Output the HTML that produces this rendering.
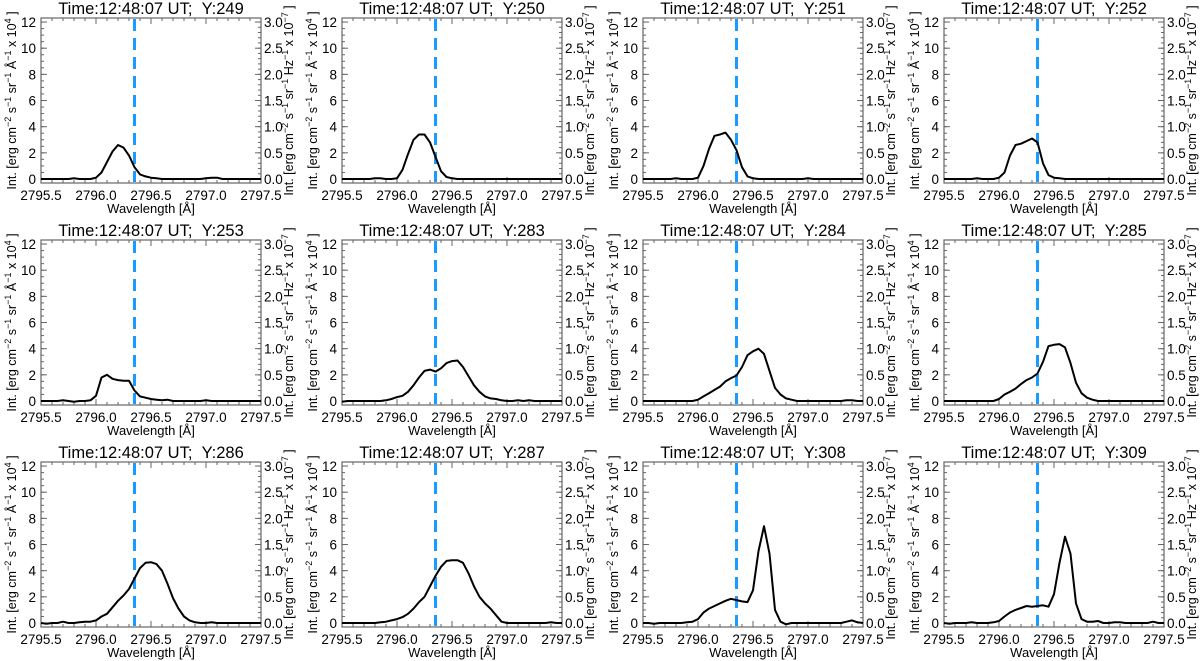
<!DOCTYPE html>
<html><head><meta charset="utf-8">
<style>
html,body{margin:0;padding:0;background:#fff;}
svg{display:block;font-family:"Liberation Sans",Arial,sans-serif;}
</style></head>
<body>
<svg id="fig" width="1200" height="661" viewBox="0 0 1200 661" xmlns="http://www.w3.org/2000/svg"></svg>
<script>
const yLabels = ["249","250","251","252","253","283","284","285","286","287","308","309"];
const wlStart = 2795.5, wlStep = 0.05;
const xTicks = [2795.5, 2796.0, 2796.5, 2797.0, 2797.5];
const yTicks = [0, 2, 4, 6, 8, 10, 12];
const y2Ticks = [0.0, 0.5, 1.0, 1.5, 2.0, 2.5, 3.0];
const refWl = 2796.35;
const s249 = [0,0,0,0,0,0,0.05,0,0,0,0.1,0.5,1.3,2.1,2.6,2.4,1.8,0.9,0.35,0.2,0.1,0.05,0,0,0,0,0,0,0,0,0.05,0.1,0.1,0,0,0,0,0,0,0,0];
const s250 = [0,0,0,0,0,0,0.05,0.05,0,0,0.05,0.7,1.9,3.0,3.4,3.4,2.8,1.7,0.6,0.15,0.05,0,0,0,0,0,0,0,0,0,0,0,0,0,0,0,0,0,0,0,0];
const s251 = [0,0,0,0,0,0,0.05,0,0,0,0.1,1.0,2.3,3.3,3.4,3.55,3.0,2.2,0.9,0.2,0.05,0,0,0,0,0,0,0,0,0,0.05,0,0,0,0,0,0,0,0,0,0];
const s252 = [0,0,0,0,0,0,0.05,0,0,0,0.1,0.5,1.8,2.6,2.7,2.9,3.1,2.8,1.2,0.3,0.1,0.05,0,0,0,0,0,0,0,0,0,0,0,0,0,0,0,0,0,0,0];
const s253 = [0,0,0,0,0.05,0,-0.05,0,0,0.05,0.4,1.8,2.0,1.7,1.6,1.55,1.55,0.8,0.35,0.25,0.15,0.1,0.05,0.1,0,0,0,0,0,0,0.05,0,0,0,0,0,0,0,0,0,0];
const s283 = [-0.05,0,0,0,0,0,0,0,0.05,0.15,0.3,0.4,0.7,1.2,1.8,2.3,2.4,2.25,2.5,2.9,3.05,3.1,2.6,1.9,1.2,0.7,0.35,0.2,0.15,0.05,0,0,0.05,0,0.05,0,0,0,0,0,0];
const s284 = [0,0,0,0,0,0,0,0,0,0,0.1,0.35,0.6,0.85,1.1,1.5,1.75,1.95,2.6,3.5,3.8,4.0,3.6,2.3,1.0,0.5,0.2,0.1,0,0,0,0,0,0,0,0,0,0.05,0.05,0,0];
const s285 = [0,0,0,0,0,0,0,0,0,0,0.15,0.5,0.7,0.95,1.3,1.6,1.8,2.1,3.0,4.2,4.3,4.35,4.1,2.9,1.4,0.6,0.25,0.1,0,0,0,0,0,0,0,0,0,0,0,0,0];
const s286 = [0,-0.05,0,0,0.1,0,0,0.05,0.1,0.1,0.2,0.5,0.7,1.2,1.7,2.1,2.6,3.4,4.2,4.6,4.65,4.5,4.0,3.0,1.9,1.1,0.5,0.2,0.05,0,0,0.05,0,0,0,0,0,0,0,0,0];
const s287 = [0,0,0,0,0,0,0,0.05,0.1,0.2,0.3,0.45,0.7,1.1,1.6,2.0,2.8,3.6,4.3,4.75,4.8,4.8,4.6,3.8,2.8,2.0,1.5,1.1,0.6,0.1,0,0,0,0,0,0,0,0,0.05,0,0];
const s308 = [0,0,-0.05,0,0,0,0,0,0.05,0.1,0.3,0.8,1.1,1.3,1.5,1.7,1.85,1.75,1.65,1.6,2.5,5.5,7.4,5.3,1.0,0.1,-0.1,0,0,0,0,0,0,0,0,0,0,0.1,0.2,0.05,0];
const s309 = [0,-0.05,0,0,0,0.05,0,0,0,0.05,0.15,0.5,0.8,1.0,1.15,1.3,1.25,1.3,1.35,1.25,2.2,4.6,6.6,5.3,1.5,0.3,0.1,0.1,0.15,0,0,0.05,0.05,0,0,0,0,0,0.1,0,0];
const series = [s249,s250,s251,s252,s253,s283,s284,s285,s286,s287,s308,s309];

const NS = "http://www.w3.org/2000/svg";
const fig = document.getElementById("fig");
function mk(tag, attrs, parent){const e=document.createElementNS(NS,tag);for(const k in attrs)e.setAttribute(k,attrs[k]);parent.appendChild(e);return e;}

const BOXL=41, BOXW=220, BOXT=18, BOXB=183, Y0=179, PXU=13.08;
const xMin=2795.5, xMax=2797.5;

function sup(parent, base, s){
  const t=document.createElementNS(NS,"tspan");t.textContent=base;parent.appendChild(t);
  if(s){const u=document.createElementNS(NS,"tspan");u.setAttribute("dy","-5");u.setAttribute("font-size","9");u.textContent=s;parent.appendChild(u);
  const r=document.createElementNS(NS,"tspan");r.setAttribute("dy","5");r.textContent=" ";parent.appendChild(r);}
}

series.forEach((vals, idx)=>{
  const col=idx%4, row=Math.floor(idx/4);
  const ox=301*col, oy=222*row;
  const g=mk("g",{transform:`translate(${ox},${oy})`},fig);
  
  
  const xs=v=>BOXL+(v-xMin)/(xMax-xMin)*BOXW;
  const ys=v=>Y0-v*PXU;

  const title=mk("text",{x:BOXL+BOXW/2,y:14,"text-anchor":"middle","font-size":"16.5",fill:"#000"},g);
  title.textContent="Time:12:48:07 UT;\u00a0\u00a0Y:"+yLabels[idx];
  
  

  const box=mk("rect",{x:BOXL,y:BOXT,width:BOXW,height:BOXB-BOXT,fill:"none",stroke:"#666","stroke-width":"1.2"},g);
  
  

  xTicks.forEach(t=>{
    const x=xs(t);
    mk("line",{x1:x,x2:x,y1:BOXB,y2:BOXB-6,stroke:"#666"},g);
    mk("line",{x1:x,x2:x,y1:BOXT,y2:BOXT+6,stroke:"#666"},g);
    const lb=mk("text",{x:x,y:BOXB+17,"text-anchor":"middle","font-size":"13.5",fill:"#000"},g);
    lb.textContent=t.toFixed(1);
    
    
  });
  for(let t=xMin;t<=xMax+1e-9;t+=0.1){const x=xs(t);
    mk("line",{x1:x,x2:x,y1:BOXB,y2:BOXB-3,stroke:"#666"},g);
    mk("line",{x1:x,x2:x,y1:BOXT,y2:BOXT+3,stroke:"#666"},g);}
  yTicks.forEach(t=>{
    const y=ys(t);
    mk("line",{x1:BOXL,x2:BOXL+6,y1:y,y2:y,stroke:"#666"},g);
    const lb=mk("text",{x:BOXL-5,y:y+5,"text-anchor":"end","font-size":"13.5",fill:"#000"},g);
    lb.textContent=t;
    
    
  });
  for(let t=0;t<=12;t+=0.5){const y=ys(t);mk("line",{x1:BOXL,x2:BOXL+3,y1:y,y2:y,stroke:"#666"},g);}
  y2Ticks.forEach(t=>{
    const y=ys(t*4);
    mk("line",{x1:BOXL+BOXW,x2:BOXL+BOXW-6,y1:y,y2:y,stroke:"#666"},g);
    const lb=mk("text",{x:BOXL+BOXW+3,y:y+5,"text-anchor":"start","font-size":"13.5",fill:"#000"},g);
    lb.textContent=t.toFixed(1);
    
    
  });
  for(let t=0;t<=3.0001;t+=0.1){const y=ys(t*4);mk("line",{x1:BOXL+BOXW,x2:BOXL+BOXW-3,y1:y,y2:y,stroke:"#666"},g);}

  const xt=mk("text",{x:BOXL+BOXW/2,y:213,"text-anchor":"middle","font-size":"13",fill:"#000"},g);
  xt.textContent="Wavelength [Å]";
  
  
  const yl=mk("text",{transform:`translate(16,${(BOXT+BOXB)/2}) rotate(-90)`,"text-anchor":"middle","font-size":"12.5",fill:"#000"},g);
  sup(yl,"Int. [erg cm","−2");sup(yl,"s","−1");sup(yl,"sr","−1");sup(yl,"Å","−1");sup(yl,"x 10","4");
  const cl=document.createElementNS(NS,"tspan");cl.textContent="]";yl.appendChild(cl);
  
  
  const yr=mk("text",{transform:`translate(293,${(BOXT+BOXB)/2}) rotate(-90)`,"text-anchor":"middle","font-size":"12.5",fill:"#000"},g);
  sup(yr,"Int. [erg cm","−2");sup(yr,"s","−1");sup(yr,"sr","−1");sup(yr,"Hz","−1");sup(yr,"x 10","−7");
  const cr=document.createElementNS(NS,"tspan");cr.textContent="]";yr.appendChild(cr);
  
  

  const rl=mk("line",{x1:xs(refWl),x2:xs(refWl),y1:BOXT+1,y2:BOXB-1,stroke:"#1a9bff","stroke-width":"3","stroke-dasharray":"12 7"},g);
  
  

  const pts=vals.map((v,i)=>xs(wlStart+i*wlStep).toFixed(1)+","+ys(v).toFixed(1)).join(" ");
  const pl=mk("polyline",{points:pts,fill:"none",stroke:"#000","stroke-width":"2","stroke-linejoin":"round"},g);
  
  
});
</script>
</body></html>
